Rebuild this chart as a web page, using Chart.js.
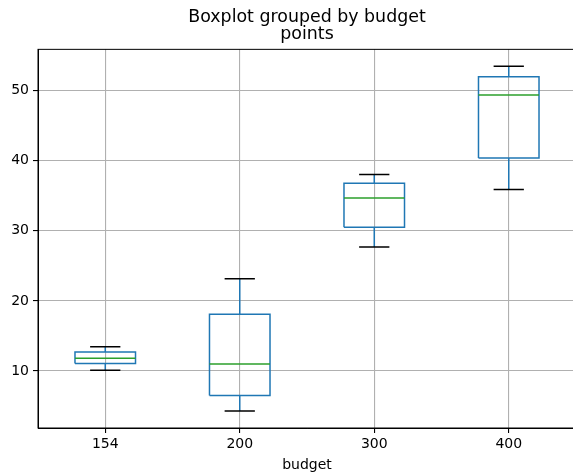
<!DOCTYPE html>
<html>
<head>
<meta charset="utf-8">
<script src="https://cdn.jsdelivr.net/npm/chart.js@4.4.1/dist/chart.umd.min.js"></script>
<style>
  html, body { margin: 0; padding: 0; background: #fff; overflow: hidden; }
  #wrap { width: 576px; height: 476px; }
</style>
</head>
<body>
<div id="wrap"><canvas id="canvas"></canvas></div>
<script>
// budget groups and the box stats
let categories = ["154", "200", "300", "400"];
let whiskerLow = [10.1, 4.3, 27.7, 35.9];
let q1 = [11.05, 6.5, 30.5, 40.4];
let median = [11.8, 11.0, 34.7, 49.4];
let q3 = [12.7, 18.1, 36.8, 52.0];
let whiskerHigh = [13.45, 23.15, 38.05, 53.5];
let yTicks = [10, 20, 30, 40, 50];

let boxHalf = 0.225;
let capHalf = 0.1125;

// turn a list of segments into points, with a null point between them to break the line
function segments(list) {
  let pts = [];
  list.forEach((seg) => {
    seg.forEach((p) => pts.push({x: p[0], y: p[1]}));
    pts.push({x: seg[0][0], y: null});
  });
  return pts;
}

let boxSegs = [], whiskerSegs = [], capSegs = [], medianSegs = [];
categories.forEach((c, i) => {
  let x = i + 1;
  boxSegs.push([[x - boxHalf, q1[i]], [x + boxHalf, q1[i]], [x + boxHalf, q3[i]], [x - boxHalf, q3[i]], [x - boxHalf, q1[i]]]);
  whiskerSegs.push([[x, q1[i]], [x, whiskerLow[i]]]);
  whiskerSegs.push([[x, q3[i]], [x, whiskerHigh[i]]]);
  capSegs.push([[x - capHalf, whiskerLow[i]], [x + capHalf, whiskerLow[i]]]);
  capSegs.push([[x - capHalf, whiskerHigh[i]], [x + capHalf, whiskerHigh[i]]]);
  medianSegs.push([[x - boxHalf, median[i]], [x + boxHalf, median[i]]]);
});

function lineSet(label, pts, color, order) {
  return {
    label: label,
    data: segments(pts),
    showLine: true,
    spanGaps: false,
    borderColor: color,
    backgroundColor: color,
    borderWidth: 1.5,
    pointRadius: 0,
    order: order
  };
}

// top and right spines
const framePlugin = {
  id: "frame",
  afterDraw(chart) {
    const {ctx, chartArea} = chart;
    ctx.save();
    ctx.strokeStyle = "#000";
    ctx.lineWidth = 1;
    ctx.strokeRect(chartArea.left, chartArea.top, chartArea.right - chartArea.left, chartArea.bottom - chartArea.top);
    ctx.restore();
  }
};

Chart.defaults.font.family = "'DejaVu Sans', sans-serif";
Chart.defaults.color = "#000";

var ctx = document.getElementById("canvas").getContext("2d");
var chart = new Chart(ctx, {
  type: "scatter",
  data: {
    datasets: [
      lineSet("median", medianSegs, "#2ca02c", 0),
      lineSet("caps", capSegs, "#000000", 1),
      lineSet("whiskers", whiskerSegs, "#1f77b4", 2),
      lineSet("boxes", boxSegs, "#1f77b4", 3)
    ]
  },
  options: {
    responsive: true,
    maintainAspectRatio: false,
    animation: false,
    layout: { padding: 0 },
    plugins: {
      legend: { display: false },
      tooltip: { enabled: false },
      title: {
        display: true,
        fullSize: false,
        text: ["Boxplot grouped by budget", "points"],
        font: { size: 17.4, weight: "normal", lineHeight: 1.01 },
        color: "#000",
        padding: { top: 8.5, bottom: 5.7 }
      }
    },
    scales: {
      x: {
        type: "linear",
        min: 0.5,
        max: 4.5,
        afterBuildTicks: (axis) => { axis.ticks = categories.map((c, i) => ({value: i + 1})); },
        afterFit: (scale) => { scale.height = 48; },
        ticks: {
          autoSkip: false,
          maxRotation: 0,
          padding: 3,
          font: { size: 14 },
          callback: (v, i) => categories[i]
        },
        grid: { color: "#b0b0b0", lineWidth: 1.1, tickColor: "#000", tickLength: 5 },
        border: { color: "#000", width: 1 },
        title: { display: true, text: "budget", font: { size: 14 }, padding: { top: 4, bottom: 2 } }
      },
      y: {
        min: 1.86,
        max: 55.9,
        afterBuildTicks: (axis) => { axis.ticks = yTicks.map((v) => ({value: v})); },
        afterFit: (scale) => { scale.width = 38; },
        ticks: { padding: 4, font: { size: 14 } },
        grid: { color: "#b0b0b0", lineWidth: 1.1, tickColor: "#000", tickLength: 5 },
        border: { color: "#000", width: 1 }
      }
    }
  },
  plugins: [framePlugin]
});
</script>
</body>
</html>
